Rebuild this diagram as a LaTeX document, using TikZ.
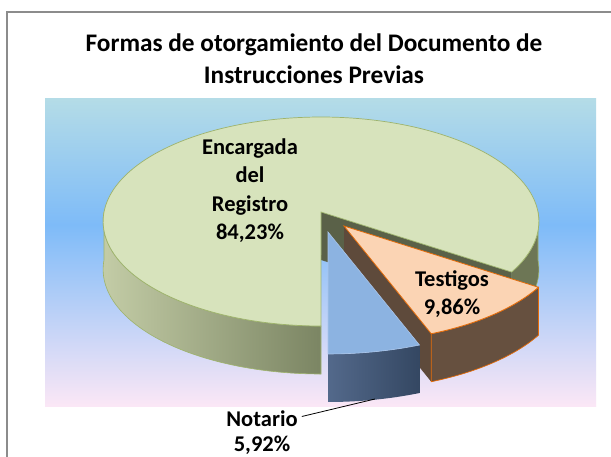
\documentclass[tikz,border=0pt]{standalone}
\usepackage{fontspec}
\setmainfont{Carlito}
\definecolor{framecol}{HTML}{8C8C8C}
\definecolor{bgtop}{HTML}{B4DCE7}
\definecolor{bgmid}{HTML}{7EBBF8}
\definecolor{bgbot}{HTML}{FBE7F6}
\definecolor{gtop}{HTML}{D7E3BC}
\definecolor{gedge}{HTML}{9EB36C}
\definecolor{gside1}{HTML}{C3CCA6}
\definecolor{gside2}{HTML}{7B8563}
\definecolor{gsider}{HTML}{6D7655}
\definecolor{gwall}{HTML}{5A6148}
\definecolor{otop}{HTML}{FBD4B4}
\definecolor{oline}{HTML}{E46C0A}
\definecolor{oside}{HTML}{66503F}
\definecolor{owall}{HTML}{5E4A3B}
\definecolor{btop}{HTML}{8CB3E1}
\definecolor{bline}{HTML}{A9C5EA}
\definecolor{bside1}{HTML}{53698B}
\definecolor{bside2}{HTML}{344762}
\pgfdeclareverticalshading{bgshade}{100bp}{color(0bp)=(bgbot); color(25bp)=(bgbot); color(54.5bp)=(bgmid); color(75bp)=(bgtop); color(100bp)=(bgtop)}
\begin{document}
\begin{tikzpicture}[x=1pt,y=-1pt,
  declare function={
    sf(\t)=1-0.091*sin(\t);
    px(\t,\f)=217*\f*cos(\t)*sf(\t);
    py(\t,\f)=104.5*\f*sin(\t)*sf(\t);
  },
  lbl/.style={font=\fontsize{22.5}{28.3}\selectfont\bfseries, align=center, inner sep=2pt, text=black},
  ttl/.style={font=\fontsize{25.3}{32}\selectfont\bfseries, align=center, inner sep=0pt, text=black},
  arcs/.style={variable=\t, samples=60, smooth},
]
\useasboundingbox (0,0) rectangle (611,457);
\clip (0,0) rectangle (611,457);
\fill[white] (0,0) rectangle (611,457);
\draw[framecol, line width=1.4] (7,12) rectangle (660,520);
\fill[shading=bgshade] (45,99) rectangle (596,406);

% ---------- green slice (Encargada del Registro) ----------
\path[left color=gside1, right color=gside2, draw=gedge, line width=0.6]
  plot[arcs, domain=180:270] ({321+px(\t,1)},{212-py(\t,1)})
  -- plot[arcs, domain=270:180] ({321+px(\t,1)},{260-py(\t,1)}) -- cycle;
\path[fill=gsider, draw=gedge, line width=0.6]
  plot[arcs, domain=-33.2:0] ({321+px(\t,1)},{212-py(\t,1)})
  -- plot[arcs, domain=0:-33.2] ({321+px(\t,1)},{260-py(\t,1)}) -- cycle;
\fill[gwall] (321,212) -- ({321+px(-33.2,1)},{212-py(-33.2,1)})
  -- ({321+px(-33.2,1)},{260-py(-33.2,1)}) -- (321,260) -- cycle;
\path[fill=gtop, draw=gedge, line width=0.7]
  (321,212) -- plot[arcs, samples=160, domain=-33.2:270] ({321+px(\t,1)},{212-py(\t,1)}) -- cycle;

% ---------- orange slice (Testigos) ----------
\fill[owall] (344,226) -- ({344+px(-68.7,1.02)},{226-py(-68.7,1.02)})
  -- ({344+px(-68.7,1.02)},{274-py(-68.7,1.02)}) -- (344,274) -- cycle;
\path[fill=oside, draw=oline, line width=0.7]
  plot[arcs, domain=-68.7:-33.2] ({344+px(\t,1.02)},{226-py(\t,1.02)})
  -- plot[arcs, domain=-33.2:-68.7] ({344+px(\t,1.02)},{274-py(\t,1.02)}) -- cycle;
\path[fill=otop, draw=oline, line width=0.8]
  (344,226) -- plot[arcs, domain=-68.7:-33.2] ({344+px(\t,1.02)},{226-py(\t,1.02)}) -- cycle;

% ---------- blue slice (Notario) ----------
\path[left color=bside1, right color=bside2]
  plot[arcs, domain=-90:-68.7] ({328+px(\t,1.07)},{232-py(\t,1.07)})
  -- plot[arcs, domain=-68.7:-90] ({328+px(\t,1.07)},{280-py(\t,1.07)}) -- cycle;
\path[fill=btop, draw=bline, line width=0.6]
  (328,232) -- plot[arcs, domain=-90:-68.7] ({328+px(\t,1.07)},{232-py(\t,1.07)}) -- cycle;

% ---------- texts ----------
\node[ttl] (title) at (314,59) {Formas de otorgamiento del Documento de\\Instrucciones Previas};
\node[lbl] (lenc) at (250,190.5) {Encargada\\del\\Registro\\84,23\%};
\node[lbl] (ltest) at (452,294) {Testigos\\9,86\%};
\node[lbl] (lnot) at (262,418.5) {Notario};
\node[lbl] (lnotp) at (262,445.5) {5,92\%};
\coordinate (bluebot) at (375,399);
\draw[black, line width=0.8] ([xshift=2pt,yshift=2pt]lnot.east) -- (bluebot);
\end{tikzpicture}
\end{document}
